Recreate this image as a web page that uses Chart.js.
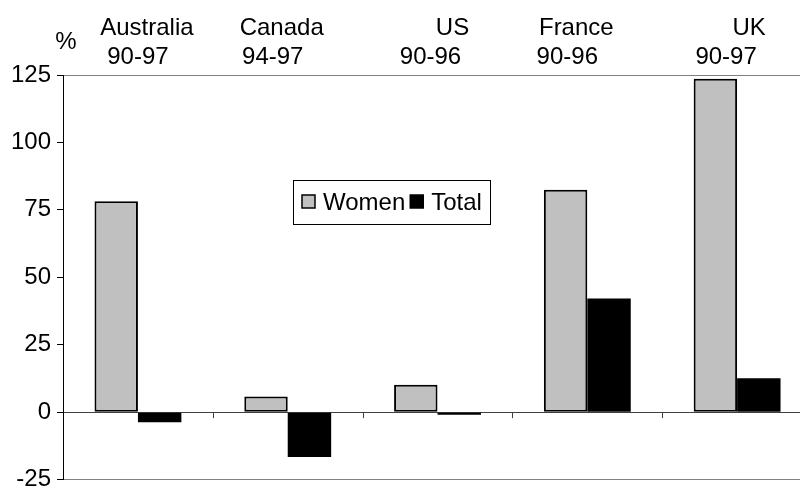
<!DOCTYPE html>
<html>
<head>
<meta charset="utf-8">
<script src="https://cdn.jsdelivr.net/npm/chart.js@4/dist/chart.umd.min.js"></script>
<style>
  html, body { margin: 0; padding: 0; background: #fff; }
  #wrap { width: 800px; height: 489px; overflow: hidden; position: relative; }
  canvas { display: block; }
</style>
</head>
<body>
<div id="wrap"><canvas id="chart" width="815" height="500"></canvas></div>
<script>
const categories = ['Australia', 'Canada', 'US', 'France', 'UK'];
const periods = ['90-97', '94-97', '90-96', '90-96', '90-97'];
const women = [78.2, 5.8, 10.2, 82.5, 123.6];
const total = [-3.7, -16.6, -1.0, 42.1, 12.6];
const yMin = -25, yMax = 125, yStep = 25;

const FONT = '"Liberation Sans", Arial, sans-serif';

// the header text boxes were placed by hand in the original, nudge them likewise
const nameNudge = [9, -6, 15, -11, 12];
const periodNudge = [0, -15, -7, -20, -11];

// labels above the plot, "%" unit, zero line ticks and the boxed legend
const extras = {
    id: 'extras',
    afterDraw(chart) {
        const ctx = chart.ctx;
        const x = chart.scales.x;
        const y = chart.scales.y;
        const area = chart.chartArea;
        ctx.save();

        // category ticks on the zero line
        const y0 = y.getPixelForValue(0);
        ctx.strokeStyle = '#404040';
        ctx.lineWidth = 1;
        for (let i = 0; i < categories.length; i++) {
            const bx = Math.round((x.getPixelForValue(i) + x.getPixelForValue(i + 1)) / 2) + 0.5;
            ctx.beginPath();
            ctx.moveTo(bx, y0);
            ctx.lineTo(bx, y0 + 6);
            ctx.stroke();
        }

        // category names and periods
        ctx.fillStyle = '#000';
        ctx.font = '24px ' + FONT;
        ctx.textAlign = 'center';
        ctx.textBaseline = 'middle';
        categories.forEach((c, i) => {
            const cx = x.getPixelForValue(i);
            ctx.fillText(c, cx + nameNudge[i], 28);
            ctx.fillText(periods[i], cx + periodNudge[i], 57);
        });
        ctx.fillText('%', area.left + 3, 42);

        // legend
        const lx = 293, ly = 180, lw = 197, lh = 44;
        ctx.fillStyle = '#fff';
        ctx.fillRect(lx, ly, lw, lh);
        ctx.strokeStyle = '#000';
        ctx.lineWidth = 1;
        ctx.strokeRect(lx + 0.5, ly + 0.5, lw, lh);
        let px = lx + 9;
        const py = ly + 22;
        ctx.textAlign = 'left';
        chart.data.datasets.forEach(ds => {
            ctx.fillStyle = ds.backgroundColor;
            ctx.fillRect(px, py - 7, 13, 13);
            ctx.strokeStyle = '#000';
            ctx.lineWidth = 1.5;
            ctx.strokeRect(px, py - 7, 13, 13);
            ctx.fillStyle = '#000';
            ctx.fillText(ds.label, px + 21, py + 1);
            px += 21 + ctx.measureText(ds.label).width + 5;
        });
        ctx.restore();
    }
};

new Chart(document.getElementById('chart'), {
    type: 'bar',
    data: {
        labels: categories,
        datasets: [
            {
                label: 'Women',
                data: women,
                backgroundColor: '#c0c0c0',
                borderColor: '#000',
                borderWidth: 2,
                borderSkipped: false,
            },
            {
                label: 'Total',
                data: total,
                backgroundColor: '#000',
                borderColor: '#000',
                borderWidth: 0,
            },
        ]
    },
    options: {
        responsive: false,
        animation: false,
        categoryPercentage: 0.58,
        barPercentage: 1.0,
        layout: { padding: { left: 5, top: 75, right: 3, bottom: 19 } },
        scales: {
            x: { display: false },
            y: {
                min: yMin,
                max: yMax,
                ticks: {
                    stepSize: yStep,
                    color: '#000',
                    padding: 6,
                    font: { family: FONT, size: 24 },
                },
                grid: {
                    tickLength: 6,
                    tickColor: '#000',
                    color: c => {
                        const v = c.tick ? c.tick.value : null;
                        if (v === 0) return '#404040';
                        if (v === yMax || v === yMin) return '#808080';
                        return 'rgba(0,0,0,0)';
                    },
                    lineWidth: 1,
                },
                border: { display: true, color: '#000', width: 1 },
            },
        },
        plugins: {
            legend: { display: false },
            tooltip: { enabled: false },
        },
    },
    plugins: [extras],
});
</script>
</body>
</html>
